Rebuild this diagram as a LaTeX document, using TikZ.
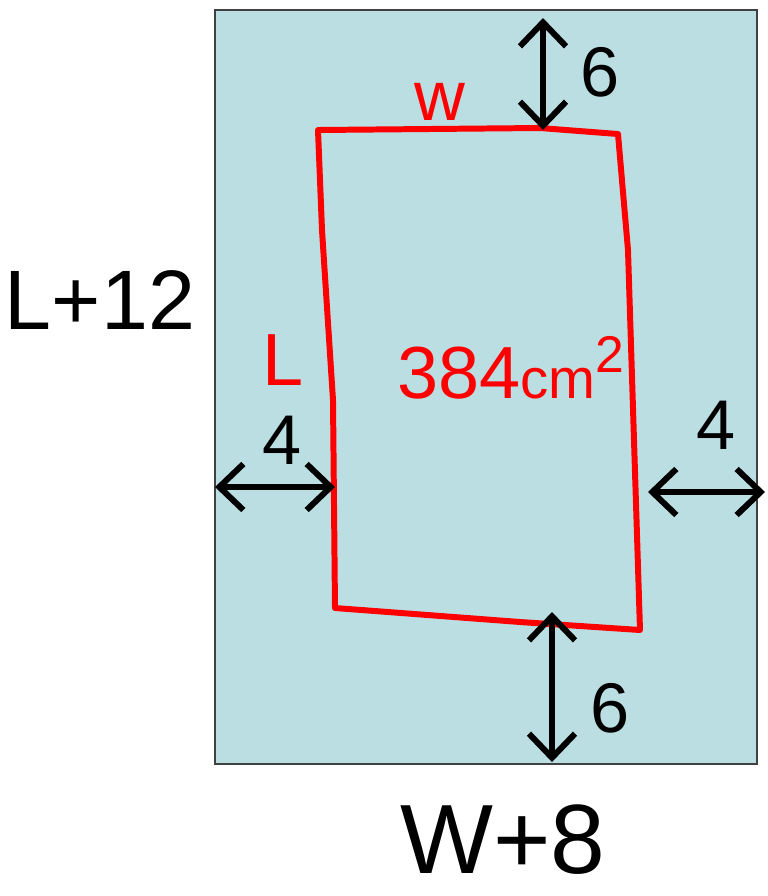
\documentclass[tikz,border=0pt]{standalone}
\usepackage{fontspec}
\setmainfont{Liberation Sans}
\usetikzlibrary{arrows.meta,positioning,calc}
\definecolor{paper}{RGB}{187,222,226}

\begin{document}
\begin{tikzpicture}[
    x=0.01cm, y=-0.01cm,
    sheet/.style={draw=black!75, line width=0.5pt, fill=paper},
    print/.style={draw=red, line width=1.7pt, line join=round},
    dim/.style={<->, >={Straight Barb[length=2.4mm, width=4.6mm]}, line width=1.7pt},
    num/.style={font=\fontsize{20}{22}\selectfont},
    big/.style={font=\fontsize{24}{26}\selectfont},
    redlbl/.style={text=red, font=\fontsize{20}{22}\selectfont}
]
\useasboundingbox (0,0) rectangle (768,896);

%% ── Sheet and printed area ───────────────────────────────────────
\draw[sheet] (215,10) rectangle (757,764);
\coordinate (sheetL) at (215,487);
\coordinate (sheetR) at (765,492);
\coordinate (sheetT) at (543,18);
\coordinate (sheetB) at (552,762);

\coordinate (tl) at (318,130);
\coordinate (tr) at (618,134);
\coordinate (br) at (640,630);
\coordinate (bl) at (335,608);
\draw[print] (tl) -- (540,128) -- (tr) -- (628,250) -- (br)
    -- (520,622) -- (bl) -- (333,400) -- (322,230) -- cycle;

\coordinate (printL) at (335,487);
\coordinate (printR) at (648,492);
\coordinate (printT) at (543,130);
\coordinate (printB) at (552,612);

%% ── Labels ───────────────────────────────────────────────────────
\node[redlbl] (w) at (440,102) {w};
\node[redlbl, font=\fontsize{21}{23}\selectfont] (L) at (283,360) {L};
\node[redlbl, font=\fontsize{21}{23}\selectfont] (area) at (512,368)
    {384{\fontsize{16}{18}\selectfont cm}\textsuperscript{2}};

\node[big] (len) at (100,300) {L+12};
\node[big, font=\fontsize{28}{30}\selectfont] (wid) at (503,840) {W+8};

%% ── Margins ──────────────────────────────────────────────────────
\draw[dim] (sheetT) -- (printT);
\node[num] (top) at (600,72) {6};
\draw[dim] (printB) -- (sheetB);
\node[num] (bot) at (610,708) {6};
\draw[dim] (sheetL) -- (printL);
\node[num] (lft) at (282,440) {4};
\draw[dim] (printR) -- (sheetR);
\node[num] (rgt) at (716,425) {4};
\end{tikzpicture}
\end{document}
